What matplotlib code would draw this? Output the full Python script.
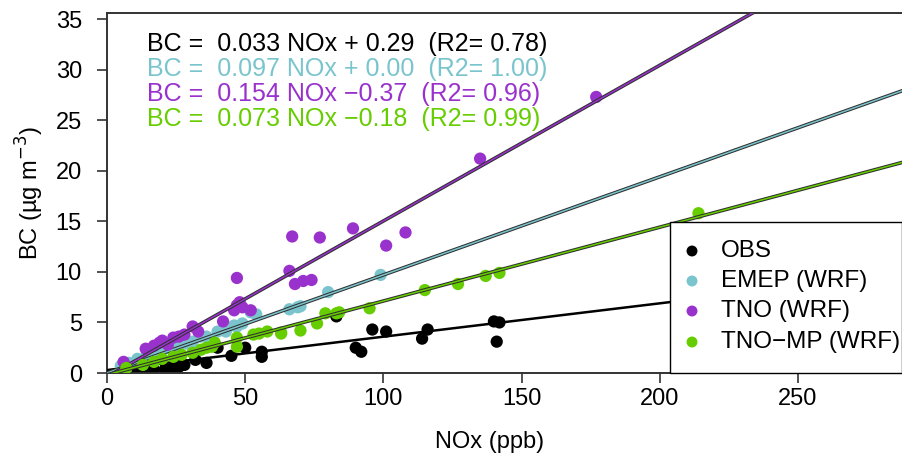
#!/usr/bin/env python3
"""
BC vs NOx scatter with linear fits for observations and three model runs.
"""

import matplotlib
matplotlib.use("Agg")
import matplotlib.pyplot as plt
import matplotlib.patheffects as pe
from matplotlib.patches import Rectangle
import numpy as np

plt.rcParams['font.family'] = ['Liberation Sans', 'DejaVu Sans']

# Data
obs_nox = [11, 14, 17, 21, 24, 26, 28, 32, 36, 40, 45, 50, 56, 56, 83, 90, 92, 96, 101, 114, 116, 140, 142, 141]
obs_bc = [0.1, 0.2, 0.3, 0.4, 0.5, 0.6, 0.8, 1.3, 1.0, 2.5, 1.7, 2.5, 2.1, 1.6, 5.6, 2.5, 2.1, 4.3, 4.1, 3.4, 4.3, 5.1, 5.0, 3.1]

emep_nox = [5, 8, 11, 14, 16, 19, 22, 26, 29, 31, 34, 36, 40, 43, 46, 47, 49, 52, 54, 66, 69, 70, 80, 99]
emep_bc = [0.7, 1.0, 1.4, 1.6, 2.0, 2.2, 2.5, 2.6, 2.9, 3.1, 3.6, 3.6, 4.1, 4.1, 4.7, 4.6, 4.9, 6.0, 5.8, 6.3, 6.5, 6.6, 8.0, 9.7]

tno_nox = [6, 14, 17, 19, 20, 22, 24, 26, 28, 31, 33, 42, 46, 47, 48, 49, 52, 47, 66, 68, 71, 74, 67, 77, 89, 101, 108, 135, 177]
tno_bc = [1.1, 2.4, 2.7, 3.0, 3.2, 2.8, 3.5, 3.6, 3.8, 4.6, 4.1, 5.1, 6.2, 6.7, 7.0, 6.5, 6.2, 9.4, 10.1, 8.8, 9.1, 9.2, 13.5, 13.4, 14.3, 12.6, 13.9, 21.2, 27.3]

tnomp_nox = [7, 13, 17, 20, 24, 27, 31, 34, 36, 38, 39, 47, 47, 53, 55, 58, 63, 63, 70, 76, 79, 83, 84, 95, 115, 127, 137, 142, 214]
tnomp_bc = [0.5, 0.8, 1.1, 1.4, 1.6, 1.8, 2.0, 2.3, 2.5, 2.6, 3.0, 2.6, 3.5, 3.8, 3.9, 4.1, 4.0, 3.9, 4.2, 4.9, 5.9, 5.9, 6.0, 6.4, 8.2, 8.8, 9.6, 9.9, 15.8]

series_names = ['OBS', 'EMEP (WRF)', 'TNO (WRF)', 'TNO\u2212MP (WRF)']
series_colors = ['black', '#7AC5CD', '#9932CC', '#66CD00']
slopes = [0.033, 0.097, 0.154, 0.073]
intercepts = [0.29, 0.00, -0.37, -0.18]
r2_values = [0.78, 1.00, 0.96, 0.99]

XMAX = 288
YMAX = 35.6

# axes box in figure pixels
AX_L, AX_R, AX_T, AX_B = 107, 903, 13, 373
W, H = 903, 455


def fx(px):
    return (px - AX_L) / (AX_R - AX_L)


def fy(py):
    return (AX_B - py) / (AX_B - AX_T)


fig = plt.figure(figsize=(W / 100, H / 100), dpi=100)
ax = fig.add_axes([AX_L / W, (H - AX_B) / H, (AX_R - AX_L) / W, (AX_B - AX_T) / H])

xs = [obs_nox, emep_nox, tno_nox, tnomp_nox]
ys = [obs_bc, emep_bc, tno_bc, tnomp_bc]
xline = np.array([0, XMAX])

for i in range(4):
    ax.scatter(xs[i], ys[i], s=78, color=series_colors[i], edgecolors='none',
               zorder=2 + 2 * i)
    yline = slopes[i] * xline + intercepts[i]
    if i == 0:
        ax.plot(xline, yline, color='black', lw=1.8, zorder=3 + 2 * i)
    else:
        ax.plot(xline, yline, color=series_colors[i], lw=1.1, zorder=3 + 2 * i,
                path_effects=[pe.Stroke(linewidth=2.6, foreground='#303030'), pe.Normal()])

# equation annotations
eq_y = [32.5, 30.1, 27.6, 25.1]
for i in range(4):
    b = intercepts[i]
    sign = '+ ' if b >= 0 else '\u2212'
    txt = f"BC =  {slopes[i]:.3f} NOx {sign}{abs(b):.2f}  (R2= {r2_values[i]:.2f})"
    ax.text(14.5, eq_y[i], txt, color=series_colors[i], fontsize=18,
            va='center', ha='left', zorder=20)

ax.set_xlim(0, XMAX)
ax.set_ylim(0, YMAX)
ax.set_xticks([0, 50, 100, 150, 200, 250])
ax.set_yticks([0, 5, 10, 15, 20, 25, 30, 35])
ax.tick_params(axis='both', direction='out', length=7, width=1.2, labelsize=17,
               color='#333333')
ax.tick_params(axis='y', pad=11)
ax.tick_params(axis='x', pad=4)
for sp in ax.spines.values():
    sp.set_linewidth(1.4)
    sp.set_color('#333333')

ax.set_xlabel('NOx (ppb)', fontsize=17)
ax.xaxis.set_label_coords(fx(490), -0.16)
ax.set_ylabel('BC (\u00b5g m$^{-3}$)', fontsize=17)
ax.yaxis.set_label_coords(fx(46), 0.5)

# legend box, bottom right
ax.add_patch(Rectangle((fx(670), 0), fx(902) - fx(670), fy(222), transform=ax.transAxes,
                       facecolor='white', edgecolor='black', lw=1.0, zorder=30,
                       clip_on=False))
legend_rows = [251, 281, 311, 342]
for i in range(4):
    ax.scatter([fx(692)], [fy(legend_rows[i])], s=62, color=series_colors[i],
               edgecolors='none', transform=ax.transAxes, zorder=31, clip_on=False)
    ax.text(fx(721), fy(legend_rows[i]), series_names[i], fontsize=17.5,
            va='center', ha='left', transform=ax.transAxes, zorder=31)

fig.savefig('out.png', dpi=100)
